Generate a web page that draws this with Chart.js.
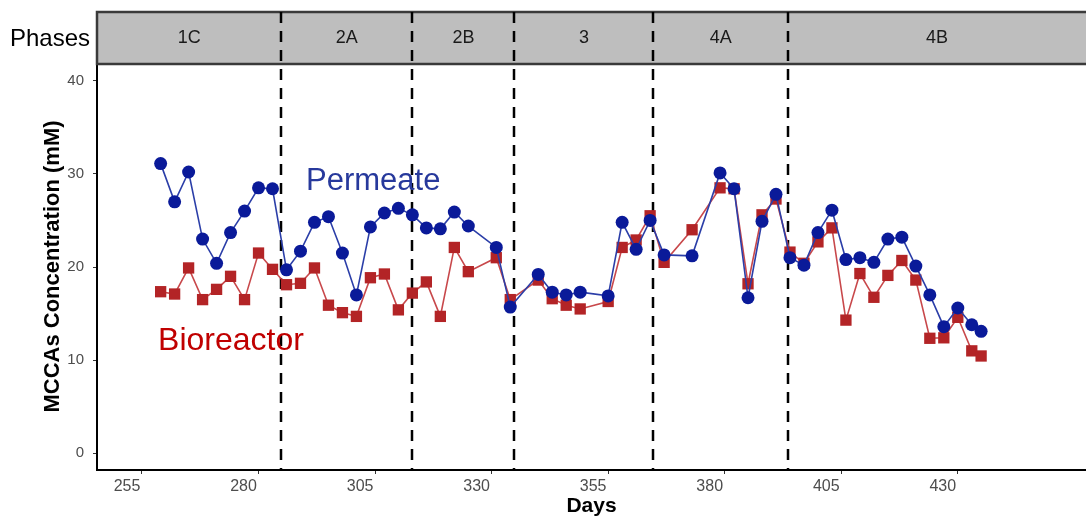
<!DOCTYPE html>
<html><head><meta charset="utf-8">
<script src="https://cdn.jsdelivr.net/npm/chart.js@4/dist/chart.umd.min.js"></script>
<style>html,body{margin:0;padding:0;background:#fff;}#wrap{width:1086px;height:519px;}</style>
</head><body><div id="wrap"><canvas id="c" width="1086" height="519"></canvas></div>
<script>
const days = [259,262,265,268,271,274,277,280,283,286,289,292,295,298,301,304,307,310,313,316,319,322,325,331,334,340,343,346,349,355,358,361,364,367,373,379,382,385,388,391,394,397,400,403,406,409,412,415,418,421,424,427,430,433,435];
const permeate = [31.1,27.0,30.2,23.0,20.4,23.7,26.0,28.5,28.4,19.7,21.7,24.8,25.4,21.5,17.0,24.3,25.8,26.3,25.6,24.2,24.1,25.9,24.4,22.1,15.7,19.2,17.3,17.0,17.3,16.9,24.8,21.9,25.0,21.3,21.2,30.1,28.4,16.7,24.9,27.8,21.0,20.2,23.7,26.1,20.8,21.0,20.5,23.0,23.2,20.1,17.0,13.6,15.6,13.8,13.1];
const bioreactor = [17.35,17.1,19.9,16.5,17.6,19.0,16.5,21.5,19.75,18.1,18.25,19.9,15.9,15.1,14.7,18.85,19.25,15.4,17.2,18.4,14.7,22.1,19.5,21.0,16.5,18.6,16.6,15.9,15.5,16.3,22.1,22.9,25.5,20.5,24.0,28.5,28.4,18.2,25.6,27.3,21.6,20.4,22.7,24.2,14.3,19.3,16.75,19.1,20.7,18.6,12.35,12.4,14.6,11.0,10.45];
const xTicks = [255,280,305,330,355,380,405,430];
const yTicks = [0,10,20,30,40];
const phaseNames = ['1C','2A','2B','3','4A','4B'];
const phaseBounds = [284.9,313,334.9,364.7,393.6];
const seriesNames = ['Permeate','Bioreactor'];

const FONT = '"Liberation Sans", Arial, sans-serif';

const phasePlugin = {
  id: 'phases',
  beforeDatasetsDraw(chart) {
    const {ctx, chartArea: a, scales: {x}} = chart;
    const top = 12, bot = 64;
    ctx.save();
    ctx.fillStyle = '#bebebe';
    ctx.fillRect(a.left, top, chart.width - a.left + 5, bot - top);
    ctx.strokeStyle = '#3a3a3a';
    ctx.lineWidth = 2.5;
    ctx.strokeRect(a.left, top, chart.width - a.left + 5, bot - top);
    const edges = [x.min, ...phaseBounds, x.max];
    ctx.fillStyle = '#1a1a1a';
    ctx.font = '18px ' + FONT;
    ctx.textAlign = 'center';
    ctx.textBaseline = 'middle';
    for (let i = 0; i < phaseNames.length; i++) {
      const xm = (x.getPixelForValue(edges[i]) + x.getPixelForValue(edges[i + 1])) / 2;
      ctx.fillText(phaseNames[i], xm, 38);
    }
    ctx.textAlign = 'right';
    ctx.fillStyle = '#000';
    ctx.font = '24px ' + FONT;
    ctx.fillText('Phases', 90, 39);
    ctx.setLineDash([11, 8]);
    ctx.lineWidth = 2.5;
    ctx.strokeStyle = '#000';
    for (const b of phaseBounds) {
      const px = Math.round(x.getPixelForValue(b));
      ctx.beginPath();
      ctx.moveTo(px, top);
      ctx.lineTo(px, a.bottom);
      ctx.stroke();
    }
    ctx.restore();
  },
  afterDatasetsDraw(chart) {
    const {ctx, scales: {x, y}} = chart;
    const labels = chart.options.plugins.phases.labels;
    ctx.save();
    ctx.textAlign = 'center';
    ctx.textBaseline = 'alphabetic';
    for (const l of labels) {
      ctx.fillStyle = l.color;
      ctx.font = l.size + 'px ' + FONT;
      ctx.fillText(l.text, x.getPixelForValue(l.x), y.getPixelForValue(l.y));
    }
    ctx.restore();
  }
};

new Chart(document.getElementById('c'), {
  type: 'line',
  data: {
    datasets: [
      {
        label: seriesNames[0],
        data: days.map((d, i) => ({x: d, y: permeate[i]})),
        borderColor: '#2b3ea8',
        borderWidth: 1.6,
        pointStyle: 'circle',
        pointRadius: 6.5,
        pointBackgroundColor: '#0a1a99',
        pointBorderColor: '#0a1a99',
        pointBorderWidth: 0,
        tension: 0
      },
      {
        label: seriesNames[1],
        data: days.map((d, i) => ({x: d, y: bioreactor[i]})),
        borderColor: '#c8484b',
        borderWidth: 1.6,
        pointStyle: 'rect',
        pointRadius: 8,
        pointBackgroundColor: '#b32426',
        pointBorderColor: '#b32426',
        pointBorderWidth: 0,
        tension: 0
      }
    ]
  },
  options: {
    responsive: false,
    animation: false,
    events: [],
    layout: {autoPadding: false, padding: {top: 63, left: 0, right: 0, bottom: 0}},
    plugins: {
      legend: {display: false},
      tooltip: {enabled: false},
      phases: {
        labels: [
          {text: seriesNames[0], x: 304.6, y: 28.27, color: '#27399c', size: 31},
          {text: seriesNames[1], x: 274.1, y: 11.09, color: '#c00000', size: 32}
        ]
      }
    },
    scales: {
      x: {
        type: 'linear',
        min: 245.35,
        max: 457.5,
        afterBuildTicks: s => { s.ticks = xTicks.map(v => ({value: v})); },
        afterFit: s => { s.height = 49; s.paddingRight = 0; s.paddingLeft = 0; },
        grid: {display: true, drawOnChartArea: false, drawTicks: true, tickLength: 4, color: '#333', lineWidth: 1},
        border: {display: true, color: '#000', width: 2},
        ticks: {font: {family: FONT, size: 16}, color: '#4d4d4d', padding: 3, labelOffset: -15, maxRotation: 0, autoSkip: false},
        title: {display: true, text: 'Days', font: {family: FONT, size: 21, weight: 'bold'}, color: '#000', padding: {top: 0, bottom: 0}}
      },
      y: {
        type: 'linear',
        min: -1.79,
        max: 41.9,
        afterBuildTicks: s => { s.ticks = yTicks.map(v => ({value: v})); },
        afterFit: s => { s.width = 97; s.paddingTop = 0; s.paddingBottom = 0; },
        grid: {display: true, drawOnChartArea: false, drawTicks: true, tickLength: 4, color: '#333', lineWidth: 1},
        border: {display: true, color: '#000', width: 2},
        ticks: {font: {family: FONT, size: 15}, color: '#4d4d4d', padding: 9, autoSkip: false},
        title: {display: true, text: 'MCCAs Concentration (mM)', font: {family: FONT, size: 22, weight: 'bold'}, color: '#000', padding: {top: 40, bottom: 0}}
      }
    }
  },
  plugins: [phasePlugin]
});
</script>
</body></html>
